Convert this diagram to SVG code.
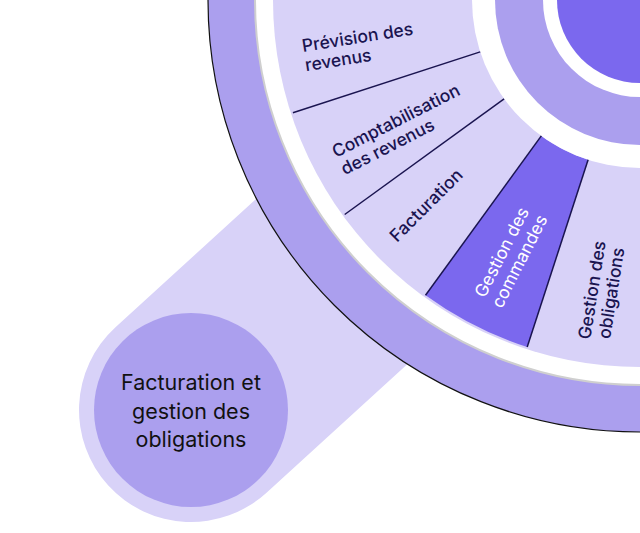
<svg xmlns="http://www.w3.org/2000/svg" width="640" height="533" viewBox="0 0 640 533">
<style>
.seg{font-family:Inter,"Liberation Sans",Arial,sans-serif;font-size:17.5px;font-weight:500;fill:#1a1450}
.div{stroke:#1a1450;stroke-width:1.5;fill:none}
.main{font-family:Inter,"Liberation Sans",Arial,sans-serif;font-size:21.5px;fill:#111;text-anchor:middle}
</style>
<rect width="640" height="533" fill="#fff"/>
<g id="pill">
<line x1="191" y1="410" x2="640" y2="0" stroke="#d8d2f8" stroke-width="224" stroke-linecap="round"/>
</g>
<g id="wheel">
<circle cx="640" cy="0" r="432" fill="#ab9fee" stroke="#111" stroke-width="1.2"/>
<circle cx="640" cy="0" r="385" fill="#fff" stroke="#cfcfcf" stroke-width="2"/>
<circle cx="640" cy="0" r="367" fill="#d8d2f8"/>
<path d="M541.3,135.9 L425.5,295.3 A365 365 0 0 0 527.2,347.1 L588.1,159.8 A168 168 0 0 1 541.3,135.9 Z" fill="#7b68ee"/>
<circle cx="640" cy="0" r="168" fill="#fff"/>
<circle cx="640" cy="0" r="145" fill="#ab9fee"/>
<circle cx="640" cy="0" r="97" fill="#fff"/>
<circle cx="640" cy="0" r="83" fill="#7b68ee"/>
</g>
<g id="connectors">
<line class="div" x1="480.2" y1="51.9" x2="292.9" y2="112.8"/>
<line class="div" x1="504.1" y1="98.8" x2="344.7" y2="214.5"/>
<line class="div" x1="541.3" y1="135.9" x2="425.5" y2="295.3"/>
<line class="div" x1="588.1" y1="159.8" x2="527.2" y2="347.1"/>
</g>
<g id="seg-prevision"><text class="seg" transform="translate(303,52) rotate(-9)"><tspan x="0" y="0">Prévision des</tspan><tspan x="0" y="19.5">revenus</tspan></text></g>
<g id="seg-compta"><text class="seg" transform="translate(336,158) rotate(-27)"><tspan x="0" y="0">Comptabilisation</tspan><tspan x="0" y="19.5">des revenus</tspan></text></g>
<g id="seg-facturation"><text class="seg" transform="translate(397,243) rotate(-45)">Facturation</text></g>
<g id="seg-commandes"><text class="seg" style="fill:#fff;text-anchor:middle;font-weight:400" transform="translate(507,255) rotate(-63)"><tspan x="0" y="0">Gestion des</tspan><tspan x="0" y="20">commandes</tspan></text></g>
<g id="seg-obligations"><text class="seg" style="text-anchor:middle" transform="translate(598,291) rotate(-81)"><tspan x="0" y="0">Gestion des</tspan><tspan x="0" y="19.5">obligations</tspan></text></g>
<g id="node-main">
<circle cx="191" cy="410" r="97" fill="#ab9fee"/>
<text class="main"><tspan x="191" y="390">Facturation et</tspan><tspan x="191" y="419">gestion des</tspan><tspan x="191" y="447">obligations</tspan></text>
</g>
</svg>
